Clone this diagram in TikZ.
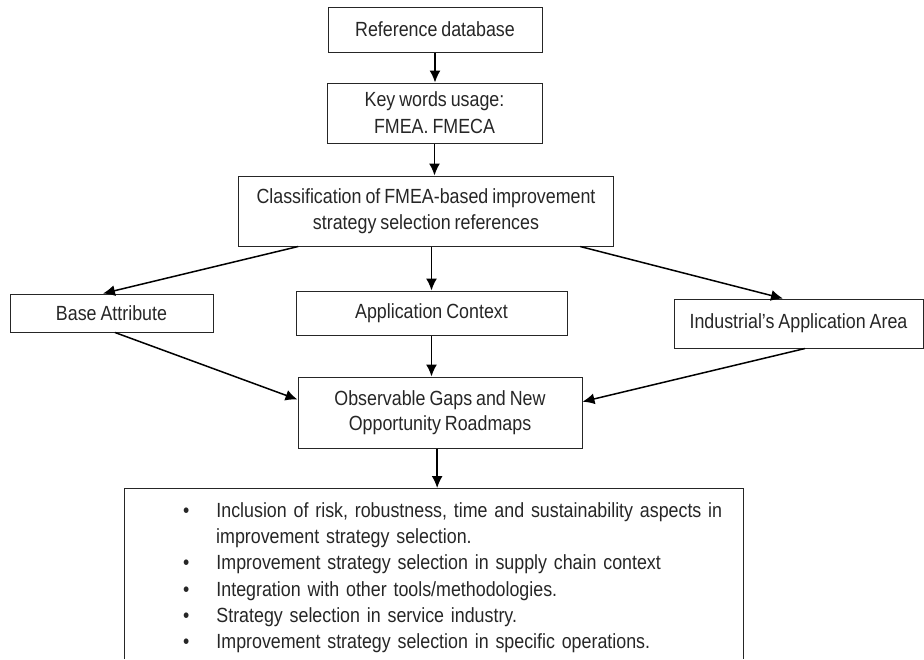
\documentclass[tikz,border=0pt]{standalone}
\usepackage{fontspec}
\setmainfont{Liberation Sans}[FakeStretch=0.87,WordSpace=0.8]
\usetikzlibrary{arrows.meta,calc}
\begin{document}
\begin{tikzpicture}[x=1pt,y=-1pt,
  box/.style={draw=black!85, line width=1pt, inner sep=0pt, align=center,
    text=black!85, font=\fontsize{20.5}{25.5}\selectfont},
  arr/.style={line width=1.5pt, draw=black, -{Latex[length=12pt,width=11pt]}}]
\useasboundingbox (0,0) rectangle (924,659);
% boxes
\node[box, minimum width=214pt, minimum height=45pt] (ref) at (435,29.5) {Reference database};
\node[box, minimum width=215pt, minimum height=60pt] (key) at (434.5,113) {Key words usage:\\[1.5pt]FMEA. FMECA};
\node[box, minimum width=375pt, minimum height=70pt] (cls) at (426,211) {Classification of FMEA-based improvement\\strategy selection references};
\node[box, minimum width=203pt, minimum height=38pt] (base) at (111.5,313) {Base Attribute};
\node[box, minimum width=271pt, minimum height=44pt] (app) at (431.5,313) {Application Context};
\node[box, minimum width=249pt, minimum height=49pt] (ind) at (798.5,323.5) {Industrial's Application Area};
\node[box, minimum width=284pt, minimum height=71pt] (obs) at (440,412.5) {Observable Gaps and New\\Opportunity Roadmaps};
% bullet box (cut by the page edge)
\coordinate (bnw) at (124,488);
\coordinate (bne) at (743,488);
\coordinate (bsw) at (124,659);
\coordinate (bse) at (743,659);
\draw[draw=black!85, line width=1pt] (bsw) -- (bnw) -- (bne) -- (bse);
\node[anchor=north west, inner sep=0pt, text width=539pt, text=black!85,
  font=\fontsize{20.5}{26.2}\selectfont] (bul) at (183,491) {%
  \begin{list}{\textbullet}{\setlength{\leftmargin}{33pt}\setlength{\labelwidth}{6pt}%
    \setlength{\labelsep}{27pt}\setlength{\itemsep}{0pt}\setlength{\parsep}{0pt}%
    \setlength{\topsep}{0pt}\setlength{\partopsep}{0pt}}
  \item Inclusion of risk, robustness, time and sustainability aspects in\linebreak improvement strategy selection.
  \item Improvement strategy selection in supply chain context
  \item Integration with other tools/methodologies.
  \item Strategy selection in service industry.
  \item Improvement strategy selection in specific operations.
  \end{list}};
% connectors
\draw[arr] (ref.south) -- (ref.south |- key.north);
\draw[arr] (key.south) -- (key.south |- cls.north);
\draw[arr] ($(cls.south west)!0.16!(cls.south east)$) -- ($(base.north west)!0.458!(base.north east)$);
\draw[arr] (app.north |- cls.south) -- (app.north);
\draw[arr] ($(cls.south west)!0.91!(cls.south east)$) -- ($(ind.north west)!0.438!(ind.north east)$);
\draw[arr] ($(base.south west)!0.517!(base.south east)$) -- ($(obs.north west)!0.32!(obs.south west)$);
\draw[arr] ($(ind.south west)!0.526!(ind.south east)$) -- ($(obs.north east)!0.35!(obs.south east)$);
\draw[arr] (app.south) -- (app.south |- obs.north);
\draw[arr] ($(obs.south west)!0.49!(obs.south east)$) coordinate (os) -- (os |- bnw);
\end{tikzpicture}
\end{document}
